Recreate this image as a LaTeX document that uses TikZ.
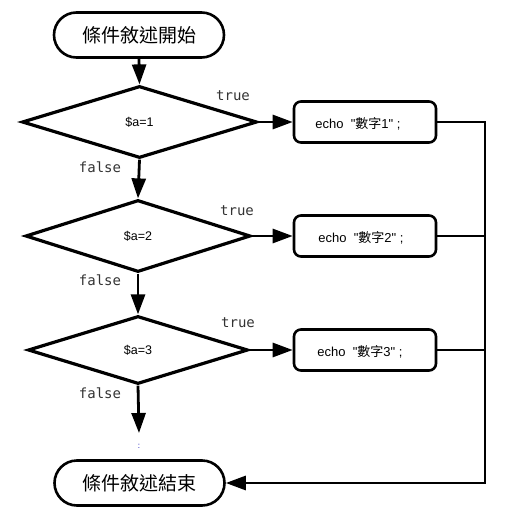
\documentclass[tikz,border=0pt]{standalone}
\usepackage{fontspec}
\setmainfont{Liberation Sans}[Ligatures=TeXOff]
\newfontfamily\cjk{Noto Sans CJK TC}
\newfontfamily\monof{DejaVu Sans Mono}
\usetikzlibrary{shapes.geometric,arrows.meta}
\begin{document}
\begin{tikzpicture}[x=1pt,y=-1pt,
  term/.style={draw,line width=2.6pt,rounded corners=22.5pt,minimum width=170pt,minimum height=45pt,inner sep=0pt,font=\cjk\fontsize{19}{19}\selectfont},
  cond/.style={draw,diamond,line width=3.2pt,inner sep=0pt,font=\fontsize{12.5}{12.5}\selectfont},
  act/.style={draw,line width=2.6pt,rounded corners=7pt,minimum width=142pt,minimum height=41pt,inner sep=0pt},
  acttext/.style={font=\fontsize{13}{13}\selectfont,inner sep=0pt},
  lbl/.style={font=\monof\fontsize{14}{14}\selectfont,text=black!80,inner sep=0pt},
  flow/.style={line width=2.8pt,-{Triangle[length=20pt,width=14pt]}},
  line/.style={line width=2.8pt}]
\useasboundingbox (0,0) rectangle (508,511);
\node[term] (start) at (139,35) {條件敘述開始};
\node[cond,minimum width=235pt,minimum height=72pt,aspect=3.26] (d1) at (139.5,122) {\$a=1};
\node[cond,minimum width=225pt,minimum height=72pt,aspect=3.12] (d2) at (138,236) {\$a=2};
\node[cond,minimum width=220pt,minimum height=68pt,aspect=3.23] (d3) at (138,350) {\$a=3};
\node[act] (b1) at (365,122) {};
\node[act] (b2) at (365,236) {};
\node[act] (b3) at (365,350) {};
\node[acttext] (t1) at (358,124) {echo\ \ "{\cjk 數字}1" ;};
\node[acttext] (t2) at (361,238) {echo\ \ "{\cjk 數字}2" ;};
\node[acttext] (t3) at (360,352) {echo\ \ "{\cjk 數字}3" ;};
\node[term] (end) at (139.5,483) {條件敘述結束};
\coordinate (cont) at (139,433);
\node[text=blue!70!black,font=\fontsize{8}{8}\selectfont,inner sep=0pt] (dots) at (139,446) {:};
\coordinate (r1) at (485,122);
\coordinate (r2) at (485,236);
\coordinate (r3) at (485,350);
\coordinate (rb) at (485,483);
\node[lbl] (tr1) at (233,96) {true};
\node[lbl] (tr2) at (237,211) {true};
\node[lbl] (tr3) at (238,323) {true};
\node[lbl] (f1) at (100,167) {false};
\node[lbl] (f2) at (100,280) {false};
\node[lbl] (f3) at (100,393) {false};
\draw[flow] (start.south) -- (d1.north);
\draw[flow] (d1.south) -- (d2.north);
\draw[flow] (d2.south) -- (d3.north);
\draw[flow] (d3.south) -- (cont);
\draw[flow] (d1.east) -- (b1.west);
\draw[flow] (d2.east) -- (b2.west);
\draw[flow] (d3.east) -- (b3.west);
\draw[line] (b1.east) -- (r1);
\draw[line] (b2.east) -- (r2);
\draw[line] (b3.east) -- (r3);
\draw[line,line cap=rect] (r1) -- (rb);
\draw[flow] (rb) -- (end.east);
\end{tikzpicture}
\end{document}
